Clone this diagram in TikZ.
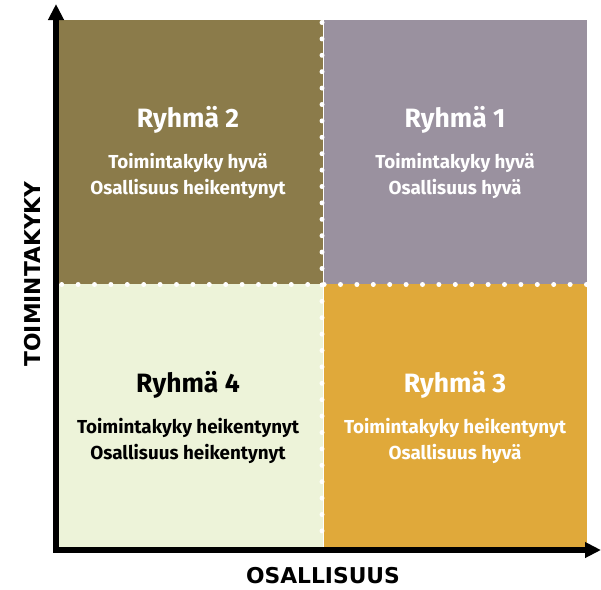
\documentclass[tikz,border=0pt]{standalone}
\usepackage{fontspec}
\setmainfont{Fira Sans}
\newfontfamily\axisfont{DejaVu Sans}
\usetikzlibrary{arrows.meta}
\definecolor{qolive}{HTML}{8B7B4A}
\definecolor{qgray}{HTML}{9A919F}
\definecolor{qgreen}{HTML}{EDF3D9}
\definecolor{qmust}{HTML}{E0A93A}
\tikzset{
  quad/.style={draw=none, minimum width=263.5pt, minimum height=263.5pt, inner sep=0pt, outer sep=0pt},
  title/.style={font=\bfseries\fontsize{26.5}{30}\selectfont},
  sub/.style={font=\bfseries\fontsize{18.8}{26}\selectfont, align=center},
  axislab/.style={font=\axisfont\bfseries\fontsize{21.8}{26}\selectfont},
  axisline/.style={line width=5.5pt, -{Triangle[length=16pt,width=15pt]}},
  dotline/.style={white, line width=5pt, line cap=round, dash pattern=on 0pt off 16.4pt}
}
\begin{document}
\begin{tikzpicture}[x=1pt,y=-1pt]
\useasboundingbox (0,0) rectangle (601,589);
\node[quad, fill=qolive, anchor=north west] (q2) at (59,20) {};
\node[quad, fill=qgray, anchor=north east] (q1) at (587,20) {};
\node[quad, fill=qgreen, anchor=south west] (q4) at (59,547) {};
\node[quad, fill=qmust, anchor=south east] (q3) at (587,547) {};
\coordinate (vt) at (322,22.5);
\coordinate (vb) at (322,547);
\coordinate (hl) at (61.7,284.5);
\coordinate (hr) at (587,284.5);
\draw[dotline] (vt) -- (vb);
\draw[dotline] (hl) -- (hr);
\coordinate (o) at (56,550);
\coordinate (ytip) at (56,4);
\coordinate (xtip) at (601,550);
\draw[axisline] (o) -- (ytip);
\draw[axisline] ([xshift=-2.75pt]o) -- (xtip);
\node[title, white] (t2) at (188,120) {Ryhmä 2};
\node[sub, white] (s2) at (188,176) {Toimintakyky hyvä\\Osallisuus heikentynyt};
\node[title, white] (t1) at (455,120) {Ryhmä 1};
\node[sub, white] (s1) at (455,176) {Toimintakyky hyvä\\Osallisuus hyvä};
\node[title, black] (t4) at (188,385) {Ryhmä 4};
\node[sub, black] (s4) at (188,441) {Toimintakyky heikentynyt\\Osallisuus heikentynyt};
\node[title, white] (t3) at (455,385) {Ryhmä 3};
\node[sub, white] (s3) at (455,441) {Toimintakyky heikentynyt\\Osallisuus hyvä};
\node[axislab] (xl) at (323,576) {OSALLISUUS};
\node[axislab, rotate=90] (yl) at (33,274) {TOIMINTAKYKY};
\end{tikzpicture}
\end{document}
